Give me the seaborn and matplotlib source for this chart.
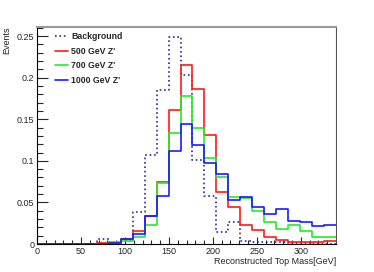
import numpy as np
import pandas as pd
import matplotlib
matplotlib.use("Agg")
import matplotlib.pyplot as plt
import seaborn as sns
from matplotlib.ticker import MultipleLocator, FormatStrFormatter

sns.set_style("ticks")
plt.rcParams['font.family'] = ['Liberation Sans', 'DejaVu Sans']

# 25 bins from 0 to 340 GeV
n_bins = 25
mass_range = (0, 340)
edges = np.linspace(mass_range[0], mass_range[1], n_bins + 1)
centers = 0.5 * (edges[:-1] + edges[1:])

background = [0, 0, 0, 0, 0, 0.006, 0.002, 0.004, 0.038, 0.107, 0.185, 0.249, 0.203,
              0.101, 0.058, 0.015, 0.027, 0.004, 0.003, 0.002, 0.002, 0.001, 0.001, 0.0005, 0.0005]
zp500 = [0, 0, 0, 0, 0, 0.001, 0.0015, 0.0065, 0.016, 0.034, 0.075, 0.161, 0.215,
         0.187, 0.131, 0.063, 0.045, 0.023, 0.017, 0.008, 0.005, 0.003, 0.002, 0.003, 0.004]
zp700 = [0, 0, 0, 0, 0, 0, 0.002, 0.004, 0.008, 0.023, 0.073, 0.134, 0.178,
         0.140, 0.103, 0.080, 0.057, 0.055, 0.040, 0.027, 0.018, 0.023, 0.016, 0.009, 0.008]
zp1000 = [0, 0, 0, 0, 0, 0, 0.001, 0.006, 0.012, 0.034, 0.058, 0.112, 0.144,
          0.119, 0.097, 0.084, 0.053, 0.056, 0.044, 0.036, 0.042, 0.028, 0.026, 0.022, 0.023]

samples = ["Background", "500 GeV Z'", "700 GeV Z'", "1000 GeV Z'"]
series = [background, zp500, zp700, zp1000]
colors = ["#2a2aa0", "#ff1a1a", "#22ee22", "#1a1aff"]
styles = [":", "-", "-", "-"]

fig = plt.figure(figsize=(3.74, 2.72), dpi=100)
ax = fig.add_axes([37 / 374, 28 / 272, 299 / 374, 217 / 272])

for name, vals, c, ls in zip(samples, series, colors, styles):
    df = pd.DataFrame({"mass": centers, "w": vals})
    sns.histplot(data=df, x="mass", weights="w", bins=n_bins, binrange=mass_range,
                 element="step", fill=False, color=c, linestyle=ls, linewidth=1.2,
                 ax=ax, label=name)

ax.set_xlim(0, 340)
ax.set_ylim(0, 0.261)
ax.xaxis.set_major_locator(MultipleLocator(50))
ax.xaxis.set_minor_locator(MultipleLocator(10))
ax.yaxis.set_major_locator(MultipleLocator(0.05))
ax.yaxis.set_minor_locator(MultipleLocator(0.01))
ax.yaxis.set_major_formatter(FormatStrFormatter('%g'))
ax.tick_params(which="both", direction="in", labelsize=6.5, pad=2)
ax.tick_params(axis="y", which="major", length=8, width=0.8)
ax.tick_params(axis="y", which="minor", length=4, width=0.8)
ax.tick_params(axis="x", which="major", length=5, width=0.8)
ax.tick_params(axis="x", which="minor", length=3, width=0.8)

ax.spines["top"].set_color("#999999")
ax.spines["top"].set_linewidth(1.5)
ax.spines["right"].set_color("#555555")
ax.spines["left"].set_color("black")
ax.spines["bottom"].set_color("black")

ax.set_xlabel("Reconstructed Top Mass[GeV]", fontsize=6.5, loc="right", labelpad=1)
ax.set_ylabel("Events", fontsize=6.5, loc="top")
ax.yaxis.set_label_coords(-0.085, 1.0)

leg = ax.legend(loc="upper left", bbox_to_anchor=(0.06, 0.975), frameon=False,
                prop={"size": 6.3, "weight": "bold"}, handlelength=1.5,
                handletextpad=0.35, labelspacing=0.62, borderpad=0, borderaxespad=0)

plt.savefig("out.png", dpi=100)
